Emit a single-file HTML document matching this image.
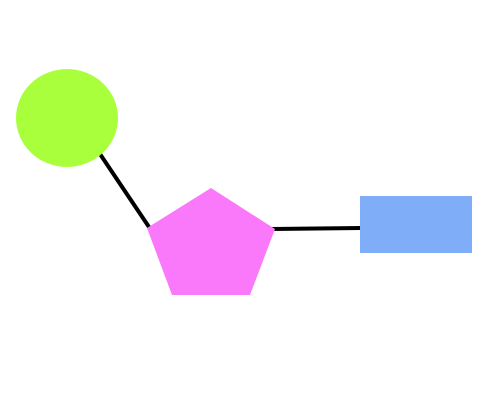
<!DOCTYPE html>
<html>
<head>
<meta charset="utf-8">
<style>
  html, body { margin: 0; padding: 0; background: #fff; }
  svg { display: block; }
</style>
</head>
<body>
<svg width="500" height="400" viewBox="0 0 500 400">
  <rect x="0" y="0" width="500" height="400" fill="#ffffff"/>
  <line x1="100" y1="154" x2="151" y2="230" stroke="#000" stroke-width="4"/>
  <line x1="272" y1="229" x2="361" y2="228" stroke="#000" stroke-width="4"/>
  <ellipse cx="67" cy="118" rx="51" ry="49" fill="#aaff3c"/>
  <polygon points="211,188 275,229 250,295 172,295 147,228" fill="#fa78fa"/>
  <rect x="360" y="196" width="112" height="57" fill="#80adf8"/>
</svg>
</body>
</html>
